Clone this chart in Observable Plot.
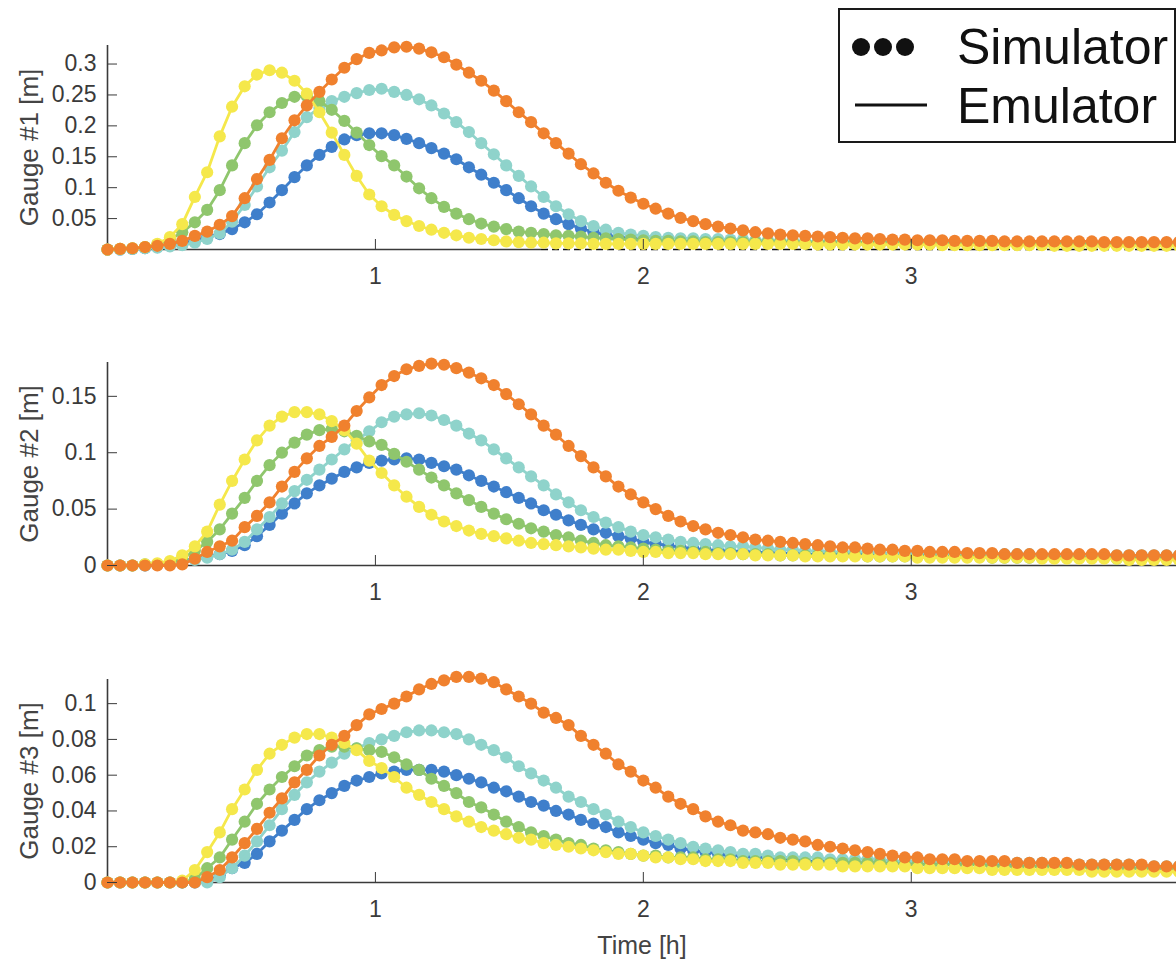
<!DOCTYPE html>
<html><head><meta charset="utf-8">
<script src="https://cdn.jsdelivr.net/npm/d3@7"></script>
<script src="https://cdn.jsdelivr.net/npm/@observablehq/plot@0.6"></script>
<style>
body{margin:0;background:#fff;}
#chart{position:relative;width:1176px;height:959px;overflow:hidden;background:#fff;font-family:"Liberation Sans",Arial,sans-serif;}
.panel{position:absolute;left:0;}
#legend{position:absolute;left:0;top:0;}
</style></head><body><div id="chart"></div>
<script>
// sample times [h]
const times = [0,0.047,0.093,0.14,0.186,0.233,0.279,0.326,0.372,0.419,
0.465,0.512,0.558,0.605,0.651,0.698,0.744,0.791,0.837,0.884,
0.93,0.977,1.023,1.07,1.116,1.163,1.209,1.256,1.302,1.349,
1.395,1.442,1.488,1.535,1.581,1.628,1.674,1.721,1.767,1.814,
1.86,1.907,1.953,2,2.046,2.093,2.139,2.186,2.232,2.279,
2.325,2.372,2.418,2.465,2.511,2.558,2.604,2.651,2.697,2.744,
2.79,2.837,2.883,2.93,2.976,3.023,3.069,3.116,3.162,3.209,
3.255,3.302,3.348,3.395,3.441,3.488,3.534,3.581,3.627,3.674,
3.72,3.767,3.813,3.86,3.906,3.953,3.999];

const seriesNames = ["Scenario A","Scenario B","Scenario C","Scenario D","Scenario E"];
const seriesColors = ["#3f7fcb","#8fd3cb","#8fc66d","#f5e84b","#f0812e"];

// ---------- Gauge #1 ----------
const g1Blue = [0,0.000,0.001,0.002,0.004,0.006,0.010,0.015,0.020,0.025,
0.033,0.044,0.057,0.076,0.096,0.117,0.136,0.153,0.166,0.178,
0.185,0.188,0.188,0.185,0.179,0.172,0.164,0.155,0.146,0.133,
0.121,0.108,0.096,0.083,0.070,0.058,0.049,0.041,0.034,0.028,
0.024,0.020,0.018,0.016,0.014,0.013,0.012,0.012,0.011,0.011,
0.011,0.011,0.011,0.011,0.011,0.011,0.010,0.010,0.010,0.010,
0.010,0.010,0.010,0.010,0.010,0.010,0.009,0.009,0.009,0.009,
0.009,0.009,0.009,0.009,0.009,0.009,0.008,0.008,0.008,0.008,
0.008,0.008,0.008,0.008,0.008,0.008,0.008];
const g1Teal = [0,0.000,0.001,0.002,0.003,0.005,0.007,0.011,0.017,0.026,
0.045,0.072,0.102,0.133,0.160,0.190,0.214,0.229,0.240,0.247,
0.253,0.258,0.260,0.255,0.250,0.243,0.233,0.220,0.206,0.190,
0.172,0.154,0.136,0.119,0.102,0.085,0.070,0.057,0.046,0.038,
0.032,0.027,0.024,0.022,0.020,0.019,0.018,0.018,0.017,0.017,
0.016,0.016,0.015,0.015,0.014,0.014,0.013,0.013,0.013,0.013,
0.012,0.012,0.012,0.012,0.012,0.011,0.011,0.011,0.011,0.011,
0.011,0.011,0.010,0.010,0.010,0.010,0.010,0.010,0.010,0.010,
0.010,0.010,0.010,0.010,0.010,0.010,0.010];
const g1Green = [0,0.001,0.002,0.004,0.008,0.016,0.028,0.044,0.064,0.096,
0.136,0.172,0.201,0.222,0.237,0.247,0.248,0.240,0.226,0.208,
0.189,0.169,0.151,0.136,0.118,0.099,0.083,0.069,0.058,0.049,
0.042,0.037,0.033,0.029,0.027,0.025,0.023,0.022,0.021,0.019,
0.018,0.017,0.016,0.015,0.014,0.014,0.013,0.013,0.012,0.012,
0.012,0.012,0.012,0.012,0.012,0.012,0.011,0.011,0.011,0.011,
0.011,0.011,0.011,0.011,0.011,0.011,0.010,0.010,0.010,0.010,
0.010,0.010,0.010,0.010,0.010,0.010,0.009,0.009,0.009,0.009,
0.009,0.009,0.009,0.009,0.009,0.009,0.009];
const g1Yellow = [0,0.001,0.002,0.004,0.009,0.020,0.041,0.085,0.125,0.183,
0.231,0.264,0.283,0.290,0.286,0.273,0.252,0.222,0.189,0.153,
0.119,0.089,0.070,0.056,0.046,0.038,0.032,0.027,0.023,0.019,
0.017,0.015,0.013,0.012,0.011,0.011,0.010,0.010,0.010,0.009,
0.009,0.009,0.009,0.009,0.009,0.009,0.009,0.009,0.009,0.009,
0.009,0.009,0.009,0.009,0.009,0.009,0.009,0.008,0.008,0.008,
0.008,0.008,0.008,0.008,0.008,0.008,0.008,0.007,0.007,0.007,
0.007,0.007,0.007,0.007,0.007,0.007,0.006,0.006,0.006,0.006,
0.006,0.006,0.006,0.006,0.006,0.006,0.006];
const g1Orange = [0,0.001,0.002,0.004,0.006,0.009,0.014,0.022,0.029,0.040,
0.054,0.083,0.114,0.145,0.180,0.209,0.233,0.255,0.275,0.294,
0.308,0.318,0.322,0.327,0.328,0.325,0.319,0.311,0.299,0.286,
0.273,0.257,0.240,0.222,0.206,0.188,0.172,0.155,0.138,0.123,
0.108,0.095,0.084,0.074,0.066,0.058,0.051,0.046,0.041,0.037,
0.034,0.031,0.028,0.026,0.024,0.023,0.022,0.021,0.020,0.019,
0.018,0.018,0.017,0.016,0.016,0.015,0.015,0.015,0.014,0.014,
0.014,0.014,0.013,0.013,0.013,0.013,0.013,0.013,0.013,0.013,
0.012,0.012,0.012,0.012,0.012,0.012,0.012];

// ---------- Gauge #2 ----------
const g2Blue = [0,0,0,0.000,0.001,0.002,0.004,0.006,0.008,0.010,
0.013,0.018,0.026,0.036,0.046,0.055,0.064,0.071,0.077,0.083,
0.087,0.091,0.093,0.094,0.095,0.094,0.091,0.088,0.085,0.080,
0.075,0.070,0.065,0.060,0.055,0.049,0.045,0.040,0.036,0.032,
0.029,0.026,0.024,0.021,0.019,0.018,0.016,0.015,0.014,0.013,
0.013,0.012,0.012,0.011,0.011,0.011,0.010,0.010,0.010,0.010,
0.010,0.010,0.010,0.010,0.010,0.010,0.009,0.009,0.009,0.009,
0.009,0.009,0.009,0.009,0.009,0.009,0.008,0.008,0.008,0.008,
0.008,0.008,0.008,0.008,0.008,0.008,0.008];
const g2Teal = [0,0,0,0.000,0.001,0.002,0.003,0.005,0.007,0.010,
0.014,0.021,0.032,0.043,0.055,0.066,0.076,0.085,0.094,0.103,
0.111,0.119,0.127,0.132,0.134,0.135,0.133,0.129,0.124,0.117,
0.111,0.103,0.095,0.087,0.079,0.071,0.063,0.056,0.049,0.043,
0.038,0.034,0.030,0.027,0.025,0.023,0.021,0.020,0.019,0.018,
0.017,0.017,0.016,0.015,0.014,0.014,0.013,0.013,0.012,0.012,
0.012,0.012,0.011,0.011,0.011,0.011,0.011,0.010,0.010,0.010,
0.010,0.010,0.010,0.010,0.010,0.009,0.009,0.009,0.009,0.009,
0.009,0.009,0.009,0.009,0.009,0.009,0.009];
const g2Green = [0,0,0.000,0.001,0.001,0.002,0.006,0.013,0.021,0.032,
0.046,0.060,0.075,0.089,0.100,0.109,0.116,0.120,0.121,0.119,
0.115,0.110,0.107,0.099,0.092,0.085,0.078,0.071,0.064,0.058,
0.052,0.046,0.041,0.037,0.033,0.030,0.027,0.025,0.022,0.020,
0.018,0.017,0.016,0.015,0.014,0.013,0.013,0.012,0.012,0.011,
0.011,0.010,0.010,0.010,0.009,0.009,0.009,0.009,0.009,0.009,
0.009,0.008,0.008,0.008,0.008,0.008,0.008,0.008,0.008,0.008,
0.008,0.007,0.007,0.007,0.007,0.007,0.007,0.007,0.007,0.007,
0.007,0.006,0.006,0.006,0.006,0.006,0.006];
const g2Yellow = [0,0,0.000,0.001,0.002,0.004,0.009,0.017,0.030,0.054,
0.075,0.094,0.111,0.124,0.132,0.136,0.136,0.134,0.128,0.120,
0.108,0.093,0.082,0.071,0.061,0.052,0.045,0.039,0.035,0.031,
0.028,0.026,0.024,0.022,0.020,0.019,0.018,0.017,0.016,0.015,
0.014,0.014,0.013,0.012,0.012,0.011,0.011,0.011,0.010,0.010,
0.010,0.010,0.009,0.009,0.009,0.009,0.008,0.008,0.008,0.008,
0.008,0.008,0.008,0.008,0.008,0.007,0.007,0.007,0.007,0.007,
0.007,0.007,0.007,0.007,0.007,0.006,0.006,0.006,0.006,0.006,
0.006,0.006,0.005,0.005,0.005,0.005,0.005];
const g2Orange = [0,0,0,0,0,0.000,0.001,0.006,0.012,0.017,
0.022,0.034,0.044,0.056,0.070,0.083,0.095,0.106,0.114,0.124,
0.137,0.149,0.160,0.168,0.174,0.177,0.179,0.178,0.175,0.171,
0.166,0.160,0.152,0.143,0.134,0.124,0.116,0.106,0.097,0.087,
0.079,0.070,0.063,0.056,0.050,0.044,0.039,0.035,0.032,0.029,
0.027,0.025,0.023,0.022,0.021,0.020,0.019,0.018,0.017,0.016,
0.016,0.015,0.014,0.014,0.013,0.013,0.012,0.012,0.012,0.011,
0.011,0.011,0.010,0.010,0.010,0.010,0.010,0.010,0.010,0.010,
0.010,0.009,0.009,0.009,0.009,0.009,0.009];

// ---------- Gauge #3 ----------
const g3Blue = [0,0,0,0,0,0,0,0.000,0.001,0.004,
0.008,0.011,0.016,0.023,0.029,0.035,0.041,0.046,0.050,0.054,
0.057,0.059,0.061,0.062,0.063,0.063,0.063,0.062,0.060,0.058,
0.056,0.053,0.051,0.048,0.045,0.043,0.040,0.038,0.035,0.033,
0.031,0.028,0.026,0.024,0.022,0.021,0.019,0.018,0.017,0.016,
0.015,0.015,0.014,0.014,0.013,0.013,0.012,0.012,0.012,0.011,
0.011,0.011,0.011,0.011,0.011,0.010,0.010,0.010,0.010,0.010,
0.010,0.010,0.010,0.009,0.009,0.009,0.009,0.009,0.009,0.009,
0.008,0.008,0.008,0.008,0.008,0.008,0.008];
const g3Teal = [0,0,0,0,0,0,0,0,0.000,0.003,
0.008,0.015,0.023,0.032,0.041,0.049,0.056,0.062,0.067,0.072,
0.075,0.078,0.080,0.082,0.084,0.085,0.085,0.084,0.083,0.080,
0.077,0.074,0.070,0.065,0.061,0.057,0.053,0.048,0.045,0.041,
0.038,0.034,0.031,0.028,0.026,0.024,0.022,0.020,0.019,0.018,
0.017,0.016,0.016,0.015,0.014,0.014,0.014,0.014,0.013,0.013,
0.013,0.013,0.013,0.012,0.012,0.012,0.012,0.012,0.012,0.011,
0.011,0.011,0.011,0.011,0.011,0.011,0.010,0.010,0.010,0.010,
0.010,0.010,0.010,0.009,0.009,0.009,0.009];
const g3Green = [0,0,0,0,0,0,0.000,0.002,0.008,0.014,
0.024,0.034,0.044,0.052,0.059,0.065,0.071,0.074,0.076,0.076,
0.075,0.074,0.073,0.070,0.066,0.063,0.058,0.054,0.050,0.045,
0.042,0.038,0.034,0.031,0.028,0.026,0.024,0.022,0.021,0.019,
0.018,0.017,0.016,0.015,0.015,0.014,0.014,0.014,0.013,0.013,
0.013,0.012,0.012,0.012,0.012,0.012,0.011,0.011,0.011,0.011,
0.011,0.011,0.011,0.010,0.010,0.010,0.010,0.010,0.010,0.010,
0.010,0.009,0.009,0.009,0.009,0.009,0.009,0.009,0.009,0.008,
0.008,0.008,0.008,0.008,0.008,0.008,0.008];
const g3Yellow = [0,0,0,0,0,0,0.001,0.007,0.017,0.028,
0.041,0.052,0.063,0.072,0.077,0.081,0.083,0.083,0.081,0.078,
0.074,0.068,0.064,0.059,0.053,0.049,0.045,0.041,0.037,0.034,
0.031,0.029,0.027,0.025,0.024,0.022,0.021,0.020,0.019,0.018,
0.017,0.016,0.016,0.015,0.014,0.014,0.013,0.013,0.012,0.012,
0.012,0.011,0.011,0.011,0.010,0.010,0.010,0.010,0.010,0.009,
0.009,0.009,0.009,0.009,0.009,0.008,0.008,0.008,0.008,0.008,
0.008,0.007,0.007,0.007,0.007,0.007,0.007,0.007,0.007,0.006,
0.006,0.006,0.006,0.006,0.006,0.006,0.006];
const g3Orange = [0,0,0,0,0,0,0,0,0.003,0.007,
0.014,0.022,0.030,0.039,0.047,0.056,0.063,0.071,0.077,0.082,
0.088,0.094,0.097,0.100,0.104,0.108,0.111,0.113,0.115,0.115,
0.114,0.112,0.108,0.104,0.100,0.095,0.092,0.088,0.082,0.077,
0.072,0.066,0.062,0.057,0.053,0.048,0.044,0.041,0.037,0.034,
0.032,0.029,0.028,0.027,0.025,0.024,0.023,0.021,0.020,0.019,
0.018,0.017,0.016,0.015,0.014,0.014,0.013,0.013,0.013,0.012,
0.012,0.012,0.012,0.011,0.011,0.011,0.011,0.011,0.010,0.010,
0.010,0.010,0.010,0.010,0.009,0.009,0.009];

// ticks and labels
const xTicks = [1, 2, 3];
const g1Ticks = [0.05, 0.1, 0.15, 0.2, 0.25, 0.3];
const g2Ticks = [0, 0.05, 0.1, 0.15];
const g3Ticks = [0, 0.02, 0.04, 0.06, 0.08, 0.1];
const gaugeLabels = ["Gauge #1 [m]", "Gauge #2 [m]", "Gauge #3 [m]"];
const xTitle = "Time [h]";
const legendLabels = ["Simulator", "Emulator"];
// baseline of panel 1 (solid then dashed, in hours)
const g1BaseSolid = [{x1: 0, x2: 1.62}];
const g1BaseDashed = [{x1: 1.62, x2: 3.99}];
const fullBase = [{x1: 0, x2: 3.99}];

const FONT = "Liberation Sans, Arial, Helvetica, sans-serif";
const AXIS = "#3a3a3a";
const TEXT = "#444";

function makePanel(cfg) {
  const marks = [];
  // axis lines
  marks.push(Plot.ruleX([0], {stroke: AXIS, strokeWidth: 1.6}));
  marks.push(Plot.ruleY(cfg.baseSolid, {y: () => 0, x1: "x1", x2: "x2", stroke: AXIS, strokeWidth: 1.6}));
  if (cfg.baseDashed) marks.push(Plot.ruleY(cfg.baseDashed, {y: () => 0, x1: "x1", x2: "x2", stroke: "#111", strokeWidth: 1.6, strokeDasharray: "7,4"}));
  cfg.series.forEach((vals, k) => {
    const n = Math.min(vals.length, times.length);
    const rows = [];
    for (let i = 0; i < n; i++) rows.push({t: times[i], v: vals[i], s: seriesNames[k]});
    marks.push(Plot.dot(rows, {x: "t", y: "v", r: 6.1, fill: seriesColors[k], stroke: "none"}));
    marks.push(Plot.line(rows, {x: "t", y: "v", stroke: seriesColors[k], strokeWidth: 2.8}));
  });
  marks.push(Plot.axisX({ticks: xTicks, tickSize: -10, tickPadding: 28, tickFormat: d => String(d), fontSize: 23, color: AXIS, label: null}));
  marks.push(Plot.axisY({ticks: cfg.yTicks, tickSize: -10, tickPadding: 21, tickFormat: d => String(d), fontSize: 23, color: AXIS, label: null}));
  marks.push(Plot.text([cfg.label], {text: d => d, frameAnchor: "left", textAnchor: "middle", lineAnchor: "middle", rotate: -90, dx: -78, fontSize: 26, fill: TEXT}));
  if (cfg.xTitle) marks.push(Plot.text([cfg.xTitle], {text: d => d, frameAnchor: "bottom", textAnchor: "middle", lineAnchor: "middle", dy: 63, fontSize: 25, fill: TEXT}));
  const svg = Plot.plot({
    width: 1176, height: cfg.height,
    marginLeft: 107, marginRight: 0, marginTop: cfg.marginTop, marginBottom: cfg.marginBottom,
    x: {domain: [0, 3.99]},
    y: {domain: [0, cfg.yMax]},
    style: {fontFamily: FONT, background: "transparent", overflow: "visible"},
    marks
  });
  svg.classList.add("panel");
  svg.style.top = cfg.top + "px";
  svg.style.position = "absolute";
  return svg;
}

const chart = document.getElementById("chart");
chart.appendChild(makePanel({top: 0, height: 300, marginTop: 45, marginBottom: 51, yMax: 0.33, yTicks: g1Ticks,
  label: gaugeLabels[0], series: [g1Blue, g1Teal, g1Green, g1Yellow, g1Orange], baseSolid: g1BaseSolid, baseDashed: g1BaseDashed}));
chart.appendChild(makePanel({top: 318, height: 300, marginTop: 44, marginBottom: 53, yMax: 0.18, yTicks: g2Ticks,
  label: gaugeLabels[1], series: [g2Blue, g2Teal, g2Green, g2Yellow, g2Orange], baseSolid: fullBase}));
chart.appendChild(makePanel({top: 636, height: 323, marginTop: 43, marginBottom: 77, yMax: 0.1135, yTicks: g3Ticks,
  label: gaugeLabels[2], series: [g3Blue, g3Teal, g3Green, g3Yellow, g3Orange], baseSolid: fullBase, xTitle: xTitle}));

// legend box
const lg = d3.create("svg").attr("id", "legend").attr("width", 1176).attr("height", 150)
  .style("position", "absolute").style("left", "0px").style("top", "0px");
lg.append("rect").attr("x", 839).attr("y", 9).attr("width", 336).attr("height", 133)
  .attr("fill", "#fff").attr("stroke", "#1a1a1a").attr("stroke-width", 2);
[861, 883, 905].forEach(cx => lg.append("circle").attr("cx", cx).attr("cy", 47).attr("r", 9).attr("fill", "#111"));
lg.append("line").attr("x1", 855).attr("x2", 927).attr("y1", 105).attr("y2", 105).attr("stroke", "#111").attr("stroke-width", 3);
lg.append("text").attr("x", 957).attr("y", 64).attr("font-size", 50).attr("font-family", FONT).attr("fill", "#111").text(legendLabels[0]);
lg.append("text").attr("x", 957).attr("y", 123).attr("font-size", 50).attr("font-family", FONT).attr("fill", "#111").text(legendLabels[1]);
chart.appendChild(lg.node());
</script></body></html>
